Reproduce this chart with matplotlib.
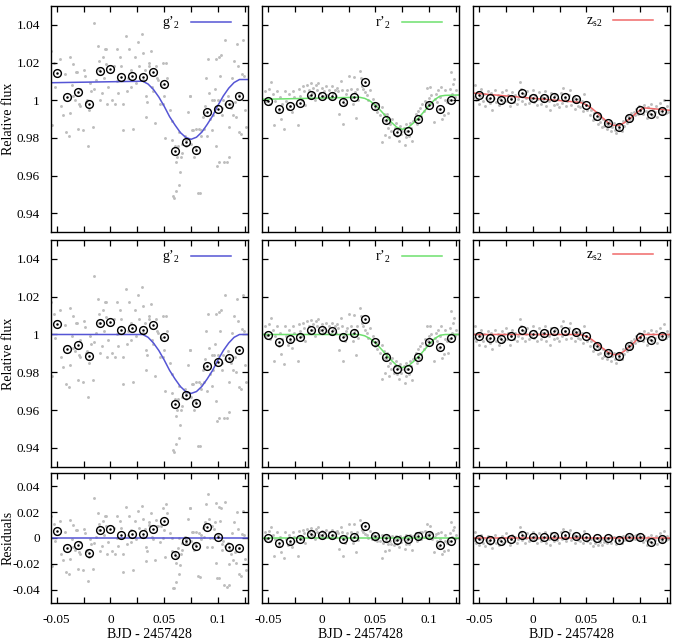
import matplotlib
matplotlib.use('Agg')
import matplotlib.pyplot as plt
from matplotlib.ticker import MultipleLocator, FuncFormatter
from matplotlib.lines import Line2D

plt.rcParams['font.family'] = 'serif'
plt.rcParams['font.serif'] = ['Liberation Serif', 'DejaVu Serif']
plt.rcParams['mathtext.fontset'] = 'custom'
plt.rcParams['mathtext.rm'] = 'Liberation Serif'
plt.rcParams['mathtext.it'] = 'Liberation Serif:italic'
plt.rcParams['axes.unicode_minus'] = False

# ---- binned points (same times for every band) ----
bin_x = [-0.05, -0.04, -0.03, -0.02, -0.01, 0.0, 0.01, 0.02, 0.03,
         0.04, 0.05, 0.06, 0.07, 0.08, 0.09, 0.10, 0.11, 0.12]

g_bin_raw = [1.0147, 1.0016, 1.0042, 0.9981, 1.0156, 1.0167, 1.0121, 1.0130, 1.0126,
             1.0149, 1.0088, 0.9733, 0.9779, 0.9737, 0.9939, 0.9956, 0.9979, 1.0025]
g_bin_det = [1.0054, 0.9923, 0.9947, 0.9888, 1.0060, 1.0068, 1.0023, 1.0032, 1.0026,
             1.0049, 0.9986, 0.9632, 0.9679, 0.9637, 0.9835, 0.9853, 0.9874, 0.9918]
g_bin_res = [0.0055, -0.0078, -0.0052, -0.0118, 0.0060, 0.0070, 0.0020, 0.0030, 0.0034,
             0.0073, 0.0130, -0.0130, -0.0020, -0.0063, 0.0084, 0.0010, -0.0068, -0.0076]

r_bin_raw = [0.9995, 0.9956, 0.9970, 0.9988, 1.0028, 1.0025, 1.0025, 0.9993, 1.0016,
             1.0095, 0.9970, 0.9893, 0.9833, 0.9837, 0.9900, 0.9975, 0.9953, 1.0004]
r_bin_det = [0.9998, 0.9960, 0.9974, 0.9988, 1.0026, 1.0023, 1.0021, 0.9988, 1.0007,
             1.0084, 0.9958, 0.9881, 0.9816, 0.9819, 0.9881, 0.9958, 0.9932, 0.9979]
r_bin_res = [0.0003, -0.0039, -0.0026, -0.0010, 0.0029, 0.0024, 0.0024, -0.0010, 0.0010,
             0.0089, 0.0018, 0.0000, -0.0018, -0.0010, 0.0013, 0.0024, -0.0052, -0.0021]

z_bin_raw = [1.0026, 1.0011, 1.0004, 1.0009, 1.0039, 1.0014, 1.0012, 1.0016, 1.0016,
             1.0007, 0.9977, 0.9919, 0.9877, 0.9858, 0.9907, 0.9949, 0.9926, 0.9942]
z_bin_det = [0.9991, 0.9981, 0.9977, 0.9991, 1.0023, 1.0005, 1.0007, 1.0016, 1.0019,
             1.0014, 0.9991, 0.9939, 0.9900, 0.9886, 0.9939, 0.9986, 0.9970, 0.9991]
z_bin_res = [-0.0008, -0.0016, -0.0021, -0.0008, 0.0026, 0.0008, 0.0010, 0.0018, 0.0021,
             0.0018, 0.0010, 0.0000, -0.0003, -0.0016, 0.0010, 0.0010, -0.0029, -0.0005]

# ---- transit models ----
g_mod_x = [-0.0553, 0.030, 0.035, 0.040, 0.045, 0.050, 0.055, 0.060, 0.065, 0.070, 0.075,
           0.080, 0.085, 0.090, 0.095, 0.100, 0.105, 0.110, 0.115, 0.120, 0.1275]
g_mod_raw = [1.0093, 1.0101, 1.0086, 1.0057, 1.0017, 0.9968, 0.9913, 0.9869, 0.9829, 0.9803, 0.9793,
             0.9804, 0.9831, 0.9872, 0.9917, 0.9973, 1.0023, 1.0064, 1.0094, 1.0110, 1.0110]
g_mod_det = [1.0, 1.0, 0.9985, 0.9955, 0.9915, 0.9865, 0.9810, 0.9765, 0.9725, 0.9698, 0.9688,
             0.9698, 0.9725, 0.9765, 0.9810, 0.9865, 0.9915, 0.9955, 0.9985, 1.0, 1.0]

r_mod_x = [-0.0553, 0.035, 0.040, 0.045, 0.050, 0.055, 0.060, 0.065, 0.070, 0.075,
           0.080, 0.085, 0.090, 0.095, 0.100, 0.105, 0.110, 0.115, 0.1275]
r_mod_raw = [1.0005, 1.0016, 1.0010, 0.9996, 0.9973, 0.9944, 0.9913, 0.9882, 0.9856, 0.9846,
             0.9854, 0.9878, 0.9906, 0.9939, 0.9973, 1.0003, 1.0022, 1.0026, 1.0028]
r_mod_det = [1.0, 1.0, 0.9993, 0.9978, 0.9955, 0.9925, 0.9893, 0.9862, 0.9835, 0.9825,
             0.9832, 0.9855, 0.9883, 0.9915, 0.9948, 0.9978, 0.9996, 1.0, 1.0]

z_mod_x = [-0.0553, 0.044, 0.050, 0.055, 0.060, 0.065, 0.070, 0.075,
           0.080, 0.085, 0.090, 0.095, 0.100, 0.103, 0.1275]
z_mod_raw = [1.0038, 0.9989, 0.9976, 0.9957, 0.9933, 0.9907, 0.9882, 0.9867,
             0.9867, 0.9880, 0.9901, 0.9926, 0.9949, 0.9960, 0.9947]
z_mod_det = [1.0, 1.0, 0.9990, 0.9973, 0.9952, 0.9928, 0.9906, 0.9893,
             0.9896, 0.9911, 0.9935, 0.9962, 0.9988, 1.0, 1.0]

# ---- unbinned photometry, g' ----
g_x = [-0.055, -0.053, -0.054, -0.052, -0.047, -0.046, -0.044, -0.042, -0.041, -0.039, -0.038, -0.038,
       -0.036, -0.035, -0.035, -0.033, -0.032, -0.031, -0.030, -0.029, -0.028, -0.028, -0.026, -0.025,
       -0.024, -0.023, -0.022, -0.021, -0.020, -0.019, -0.018, -0.016, -0.015, -0.015, -0.013, -0.012,
       -0.011, -0.011, -0.010, -0.008, -0.007, -0.006, -0.005, -0.004, -0.004, -0.003, -0.002,
       0.001, 0.003, 0.004, 0.006, 0.006, 0.007, 0.009, 0.010, 0.012, 0.012, 0.014, 0.015, 0.016, 0.017,
       0.019, 0.019, 0.021, 0.023, 0.024, 0.026, 0.027, 0.029, 0.030, 0.030, 0.032, 0.033, 0.033, 0.034,
       0.036, 0.036, 0.038, 0.039, 0.040, 0.041, 0.042, 0.043, 0.044, 0.046, 0.047, 0.049, 0.049, 0.050,
       0.051, 0.052,
       0.053, 0.055, 0.057, 0.057, 0.058, 0.059, 0.060, 0.061, 0.061, 0.062, 0.063, 0.064, 0.064, 0.065,
       0.066, 0.067, 0.067, 0.069, 0.070, 0.070, 0.072, 0.074, 0.074, 0.075, 0.076, 0.077, 0.078, 0.079,
       0.080, 0.081, 0.082, 0.083, 0.084, 0.084,
       0.086, 0.087, 0.087, 0.088, 0.089, 0.090, 0.091, 0.092, 0.093, 0.094, 0.094, 0.095, 0.096, 0.097,
       0.098, 0.098, 0.099, 0.100, 0.101, 0.101, 0.102, 0.103, 0.104, 0.104, 0.105, 0.106, 0.107, 0.107,
       0.108, 0.109, 0.110, 0.110, 0.111, 0.112, 0.113, 0.114, 0.115, 0.116, 0.117, 0.118, 0.119, 0.120,
       0.120, 0.121, 0.122, 0.123, 0.124, 0.125, 0.126]
g_raw = [1.026, 1.020, 0.987, 1.007, 1.022, 0.997, 0.992, 1.014, 0.983, 0.981, 0.993, 1.023,
         1.008, 1.019, 1.002, 1.000, 1.015, 1.015, 0.985, 0.998, 1.006, 0.997, 0.984, 1.016,
         1.013, 0.999, 1.000, 0.976, 0.995, 1.009, 1.005, 0.986, 1.041, 1.006, 1.011, 1.029,
         1.021, 1.016, 1.000, 1.004, 1.023, 1.012, 1.027, 1.019, 1.027, 0.998, 1.007,
         1.000, 1.018, 0.998, 1.027, 1.010, 1.004, 1.023, 1.018, 0.998, 0.984, 1.034, 1.005, 1.012, 1.027,
         1.016, 1.007, 0.985, 1.023, 1.009, 1.031, 1.018, 1.035, 1.011, 1.025, 1.016, 0.991, 1.002, 0.999,
         1.018, 1.020, 1.026, 1.007, 1.005, 0.988, 1.018, 1.012, 1.011, 0.998, 1.008, 1.020, 0.998, 1.002,
         0.980, 1.020,
         1.012, 0.995, 0.979, 0.989, 0.949, 0.948, 0.976, 0.952, 0.967, 0.970, 0.976, 0.983, 0.955, 0.962,
         0.970, 0.972, 0.977, 0.981, 0.979, 0.976, 0.994, 1.002, 1.002, 0.977, 0.984, 0.984, 0.970, 0.975,
         0.985, 0.951, 0.985, 0.951, 0.981, 0.984,
         0.991, 0.985, 0.993, 0.997, 1.012, 0.981, 1.022, 1.004, 0.990, 1.000, 0.984, 0.992, 1.000, 1.006,
         1.022, 0.976, 0.965, 1.000, 0.967, 1.023, 1.013, 1.024, 0.996, 0.992, 1.000, 0.967, 0.998, 1.032,
         0.967, 1.002, 0.970, 0.986, 0.998, 0.996, 1.012, 0.992, 1.021, 0.999, 0.991, 1.030, 1.018, 0.983,
         1.003, 0.982, 1.014, 1.032, 1.013, 0.995, 0.986]
g_det = [1.017, 1.011, 0.978, 0.998, 1.013, 0.988, 0.983, 1.005, 0.974, 0.972, 0.984, 1.014,
         0.999, 1.010, 0.993, 0.991, 1.006, 1.006, 0.976, 0.989, 0.997, 0.988, 0.975, 1.007,
         1.004, 0.990, 0.991, 0.967, 0.985, 0.999, 0.995, 0.976, 1.031, 0.996, 1.001, 1.019,
         1.011, 1.006, 0.990, 0.994, 1.013, 1.002, 1.017, 1.009, 1.017, 0.988, 0.997,
         0.990, 1.008, 0.988, 1.017, 1.000, 0.994, 1.013, 1.008, 0.988, 0.974, 1.024, 0.995, 1.002, 1.017,
         1.006, 0.997, 0.975, 1.013, 0.999, 1.021, 1.008, 1.025, 1.001, 1.015, 1.006, 0.981, 0.992, 0.989,
         1.008, 1.010, 1.016, 0.997, 0.995, 0.978, 1.008, 1.002, 1.001, 0.988, 0.998, 1.010, 0.988, 0.992,
         0.970, 1.010,
         1.002, 0.985, 0.969, 0.979, 0.939, 0.938, 0.966, 0.942, 0.957, 0.960, 0.966, 0.973, 0.945, 0.952,
         0.960, 0.962, 0.967, 0.971, 0.969, 0.966, 0.984, 0.992, 0.992, 0.967, 0.974, 0.974, 0.960, 0.965,
         0.975, 0.941, 0.975, 0.941, 0.971, 0.974,
         0.981, 0.975, 0.983, 0.987, 1.002, 0.970, 1.011, 0.993, 0.979, 0.989, 0.973, 0.981, 0.989, 0.995,
         1.011, 0.965, 0.954, 0.989, 0.956, 1.012, 1.002, 1.013, 0.985, 0.981, 0.989, 0.956, 0.987, 1.021,
         0.956, 0.991, 0.959, 0.975, 0.987, 0.985, 1.001, 0.981, 1.010, 0.988, 0.980, 1.019, 1.007, 0.972,
         0.992, 0.971, 1.003, 1.021, 1.002, 0.984, 0.975]
g_res = [0.017, 0.011, -0.022, -0.002, 0.013, -0.012, -0.017, 0.005, -0.026, -0.028, -0.016, 0.014,
         -0.001, 0.010, -0.007, -0.009, 0.006, 0.006, -0.024, -0.011, -0.003, -0.012, -0.025, 0.007,
         0.004, -0.010, -0.009, -0.033, -0.015, -0.001, -0.005, -0.024, 0.031, -0.004, 0.001, 0.019,
         0.011, 0.006, -0.010, -0.006, 0.013, 0.002, 0.017, 0.009, 0.017, -0.012, -0.003,
         -0.010, 0.008, -0.012, 0.017, 0.000, -0.006, 0.013, 0.008, -0.012, -0.026, 0.024, -0.005, 0.002, 0.017,
         0.006, -0.003, -0.025, 0.013, -0.001, 0.021, 0.008, 0.025, 0.001, 0.015, 0.007, -0.018, -0.007, -0.010,
         0.010, 0.012, 0.019, 0.001, -0.001, -0.017, 0.014, 0.009, 0.009, -0.003, 0.009, 0.023, 0.000, 0.006,
         -0.015, 0.026,
         0.019, 0.004, -0.010, 0.000, -0.039, -0.039, -0.011, -0.034, -0.019, -0.015, -0.008, 0.000, -0.028, -0.021,
         -0.012, -0.009, -0.004, 0.001, -0.001, -0.004, 0.015, 0.023, 0.023, -0.002, 0.005, 0.005, -0.009, -0.005,
         0.005, -0.029, 0.004, -0.030, -0.001, 0.002,
         0.008, 0.001, 0.009, 0.012, 0.026, -0.007, 0.034, 0.015, 0.000, 0.009, -0.007, 0.000, 0.007, 0.012,
         0.027, -0.019, -0.031, 0.002, -0.031, 0.024, 0.013, 0.023, -0.005, -0.009, -0.002, -0.036, -0.006, 0.028,
         -0.038, -0.004, -0.036, -0.020, -0.009, -0.012, 0.004, -0.017, 0.012, -0.011, -0.019, 0.020, 0.007, -0.028,
         -0.008, -0.029, 0.003, 0.021, 0.002, -0.016, -0.025]

# ---- unbinned photometry, r' ----
r_x = [-0.0525, -0.0515, -0.0494, -0.0478, -0.0472, -0.0454, -0.0441, -0.0432, -0.0417, -0.0401, -0.0392,
       -0.0380, -0.0370, -0.0355, -0.0340, -0.0330, -0.0318, -0.0309, -0.0293, -0.0278, -0.0269, -0.0256,
       -0.0238, -0.0225, -0.0216, -0.0201, -0.0185, -0.0176, -0.0164, -0.0154, -0.0139, -0.0123, -0.0114,
       -0.0102, -0.0093, -0.0077, -0.0062, -0.0052, -0.0040, -0.0031, -0.0015,
       0.0000, 0.0009, 0.0022, 0.0040, 0.0052, 0.0071, 0.0083, 0.0093, 0.0108, 0.0123, 0.0133, 0.0145,
       0.0154, 0.0164, 0.0176, 0.0185, 0.0194, 0.0207, 0.0216, 0.0225, 0.0238, 0.0256, 0.0269, 0.0278,
       0.0293, 0.0299, 0.0309, 0.0318, 0.0330, 0.0340, 0.0355, 0.0364, 0.0373, 0.0386, 0.0401, 0.0417,
       0.0432, 0.0448, 0.0463, 0.0478, 0.0494, 0.0503,
       0.0515, 0.0525, 0.0540, 0.0556, 0.0565, 0.0571, 0.0580, 0.0586, 0.0602, 0.0608, 0.0617, 0.0627,
       0.0633, 0.0648, 0.0657, 0.0670, 0.0679, 0.0688, 0.0701, 0.0710, 0.0719, 0.0731, 0.0741, 0.0750,
       0.0762, 0.0772, 0.0781, 0.0787, 0.0796, 0.0812, 0.0818, 0.0833, 0.0843, 0.0849, 0.0864, 0.0873,
       0.0886, 0.0895, 0.0904, 0.0917, 0.0926, 0.0935, 0.0948, 0.0957, 0.0966, 0.0978, 0.0988, 0.0997,
       0.1009, 0.1019, 0.1028, 0.1040, 0.1049, 0.1059, 0.1071, 0.1080, 0.1090, 0.1102, 0.1111, 0.1120,
       0.1133, 0.1142, 0.1151, 0.1164, 0.1173, 0.1182, 0.1194, 0.1204, 0.1213, 0.1225, 0.1235, 0.1244, 0.1250]
r_raw = [1.0051, 0.9998, 1.0060, 0.9981, 1.0095, 1.0033, 0.9867, 0.9998, 1.0051, 0.9946, 1.0016,
         0.9902, 0.9981, 0.9849, 1.0051, 0.9998, 0.9954, 1.0033, 0.9972, 0.9937, 1.0051, 1.0016,
         0.9981, 0.9867, 1.0060, 1.0025, 1.0003, 1.0073, 1.0047, 0.9977, 1.0082, 1.0056, 1.0021,
         1.0091, 1.0038, 1.0065, 1.0003, 1.0082, 1.0056, 1.0094, 1.0038,
         1.0065, 1.0021, 1.0047, 1.0073, 1.0030, 1.0056, 1.0012, 1.0073, 1.0038, 1.0056, 1.0021, 1.0065,
         1.0047, 0.9928, 1.0100, 1.0056, 0.9872, 1.0008, 0.9982, 1.0035, 1.0052, 1.0128, 1.0061, 1.0017,
         0.9982, 1.0122, 1.0043, 0.9906, 1.0061, 0.9999, 1.0157, 1.0117, 1.0078, 1.0061, 1.0043, 1.0026,
         0.9999, 1.0052, 0.9982, 1.0008, 0.9956, 0.9973,
         0.9938, 0.9982, 0.9921, 0.9964, 0.9780, 0.9894, 0.9929, 0.9815, 0.9890, 0.9926, 0.9855, 0.9803,
         0.9873, 0.9838, 0.9899, 0.9820, 0.9855, 0.9882, 0.9811, 0.9847, 0.9785, 0.9864, 0.9820, 0.9838,
         0.9855, 0.9764, 0.9803, 0.9873, 0.9838, 0.9811, 0.9882, 0.9855, 0.9782, 0.9890, 0.9899, 0.9926,
         0.9873, 0.9943, 0.9899, 0.9961, 0.9917, 0.9978, 0.9943, 0.9996, 0.9969, 1.0066, 0.9987, 1.0013,
         1.0070, 1.0026, 0.9982, 0.9886, 1.0008, 1.0035, 0.9991, 1.0052, 0.9956, 1.0017, 1.0070, 0.9903,
         0.9921, 1.0000, 1.0052, 0.9991, 0.9930, 1.0000, 1.0061, 1.0149, 1.0035, 1.0087, 1.0114, 1.0017, 1.0052]
r_det = [1.0044, 0.9991, 1.0053, 0.9974, 1.0088, 1.0026, 0.9860, 0.9991, 1.0044, 0.9939, 1.0009,
         0.9895, 0.9974, 0.9842, 1.0044, 0.9991, 0.9947, 1.0026, 0.9965, 0.9930, 1.0044, 1.0009,
         0.9974, 0.9860, 1.0053, 1.0018, 0.9991, 1.0061, 1.0035, 0.9965, 1.0070, 1.0044, 1.0009,
         1.0079, 1.0026, 1.0053, 0.9991, 1.0070, 1.0044, 1.0082, 1.0026,
         1.0053, 1.0009, 1.0035, 1.0061, 1.0018, 1.0044, 1.0000, 1.0061, 1.0026, 1.0044, 1.0009, 1.0053,
         1.0035, 0.9916, 1.0088, 1.0044, 0.9860, 0.9991, 0.9965, 1.0018, 1.0035, 1.0111, 1.0044, 1.0000,
         0.9965, 1.0105, 1.0026, 0.9889, 1.0044, 0.9982, 1.0140, 1.0100, 1.0061, 1.0044, 1.0026, 1.0009,
         0.9982, 1.0035, 0.9965, 0.9991, 0.9939, 0.9956,
         0.9921, 0.9965, 0.9904, 0.9947, 0.9763, 0.9877, 0.9912, 0.9798, 0.9868, 0.9904, 0.9833, 0.9781,
         0.9851, 0.9816, 0.9877, 0.9798, 0.9833, 0.9860, 0.9789, 0.9825, 0.9763, 0.9842, 0.9798, 0.9816,
         0.9833, 0.9742, 0.9781, 0.9851, 0.9816, 0.9789, 0.9860, 0.9833, 0.9760, 0.9868, 0.9877, 0.9904,
         0.9851, 0.9921, 0.9877, 0.9939, 0.9895, 0.9956, 0.9921, 0.9974, 0.9947, 1.0044, 0.9965, 0.9991,
         1.0044, 1.0000, 0.9956, 0.9860, 0.9982, 1.0009, 0.9965, 1.0026, 0.9930, 0.9991, 1.0044, 0.9877,
         0.9895, 0.9974, 1.0026, 0.9965, 0.9904, 0.9974, 1.0035, 1.0123, 1.0009, 1.0061, 1.0088, 0.9991, 1.0026]
r_res = [0.0044, -0.0009, 0.0053, -0.0026, 0.0088, 0.0026, -0.0140, -0.0009, 0.0044, -0.0061, 0.0009,
         -0.0105, -0.0026, -0.0158, 0.0044, -0.0009, -0.0053, 0.0026, -0.0035, -0.0070, 0.0044, 0.0009,
         -0.0026, -0.0140, 0.0053, 0.0018, -0.0009, 0.0061, 0.0035, -0.0035, 0.0070, 0.0044, 0.0009,
         0.0079, 0.0026, 0.0053, -0.0009, 0.0070, 0.0044, 0.0082, 0.0026,
         0.0053, 0.0009, 0.0035, 0.0061, 0.0018, 0.0044, 0.0000, 0.0061, 0.0026, 0.0044, 0.0009, 0.0053,
         0.0035, -0.0084, 0.0088, 0.0044, -0.0140, -0.0009, -0.0035, 0.0018, 0.0035, 0.0111, 0.0044, 0.0000,
         -0.0035, 0.0105, 0.0026, -0.0111, 0.0044, -0.0018, 0.0140, 0.0101, 0.0063, 0.0048, 0.0033, 0.0021,
         -0.0001, 0.0056, -0.0006, 0.0026, -0.0019, 0.0002,
         -0.0025, 0.0025, -0.0027, 0.0026, -0.0152, -0.0035, 0.0006, -0.0104, -0.0024, 0.0016, -0.0049, -0.0095,
         -0.0021, -0.0047, 0.0019, -0.0053, -0.0013, 0.0019, -0.0046, -0.0008, -0.0068, 0.0013, -0.0029, -0.0009,
         0.0006, -0.0086, -0.0048, 0.0021, -0.0015, -0.0048, 0.0020, -0.0014, -0.0092, 0.0014, 0.0014, 0.0036,
         -0.0024, 0.0041, -0.0009, 0.0045, -0.0005, 0.0050, 0.0007, 0.0054, 0.0021, 0.0110, 0.0025, 0.0045,
         0.0091, 0.0041, -0.0009, -0.0112, 0.0005, 0.0028, -0.0020, 0.0038, -0.0062, -0.0005, 0.0047, -0.0121,
         -0.0104, -0.0026, 0.0026, -0.0035, -0.0096, -0.0026, 0.0035, 0.0123, 0.0009, 0.0061, 0.0088, -0.0009, 0.0026]

# ---- unbinned photometry, z_s ----
z_x = [-0.0543, -0.0534, -0.0525, -0.0512, -0.0500, -0.0488, -0.0478, -0.0466, -0.0457, -0.0444, -0.0432,
       -0.0420, -0.0410, -0.0395, -0.0386, -0.0377, -0.0364, -0.0352, -0.0340, -0.0327, -0.0315, -0.0302,
       -0.0290, -0.0278, -0.0265, -0.0253, -0.0241, -0.0228, -0.0216, -0.0204, -0.0191, -0.0179, -0.0164,
       -0.0148, -0.0136, -0.0123, -0.0111, -0.0099, -0.0086, -0.0074, -0.0062, -0.0049, -0.0037, -0.0025, -0.0012,
       0.0000, 0.0012, 0.0025, 0.0037, 0.0049, 0.0062, 0.0074, 0.0086, 0.0099, 0.0111, 0.0123, 0.0136,
       0.0148, 0.0160, 0.0173, 0.0185, 0.0198, 0.0210, 0.0222, 0.0235, 0.0247, 0.0259, 0.0272, 0.0284,
       0.0296, 0.0309, 0.0321, 0.0333, 0.0346, 0.0358, 0.0370, 0.0383, 0.0395, 0.0407, 0.0420, 0.0432,
       0.0444, 0.0457, 0.0469, 0.0481, 0.0494,
       0.0506, 0.0519, 0.0531, 0.0543, 0.0556, 0.0568, 0.0580, 0.0593, 0.0605, 0.0617, 0.0630, 0.0642,
       0.0654, 0.0667, 0.0679, 0.0691, 0.0704, 0.0716, 0.0728, 0.0741, 0.0753, 0.0765, 0.0778, 0.0790,
       0.0802, 0.0815, 0.0827, 0.0840, 0.0852, 0.0864, 0.0877, 0.0889, 0.0901, 0.0914, 0.0926, 0.0938,
       0.0951, 0.0963, 0.0975, 0.0988, 0.1000,
       0.1012, 0.1025, 0.1037, 0.1049, 0.1062, 0.1074, 0.1086, 0.1099, 0.1111, 0.1123, 0.1136, 0.1148,
       0.1160, 0.1173, 0.1185, 0.1198, 0.1210, 0.1222, 0.1235, 0.1247, 0.1259]
z_raw = [1.0019, 1.0081, 1.0001, 1.0045, 0.9982, 1.0025, 1.0060, 0.9998, 1.0033, 0.9971, 1.0014,
         1.0049, 1.0005, 0.9986, 1.0038, 0.9950, 1.0010, 1.0054, 0.9992, 1.0026, 0.9973, 1.0007,
         1.0042, 0.9989, 1.0023, 1.0057, 0.9996, 1.0030, 0.9968, 1.0011, 1.0045, 0.9993, 1.0027,
         0.9982, 1.0008, 1.0098, 1.0059, 0.9997, 1.0032, 0.9979, 1.0013, 1.0047, 0.9986, 1.0020, 1.0002,
         1.0054, 0.9991, 1.0027, 0.9973, 1.0008, 1.0042, 0.9980, 1.0015, 0.9996, 1.0049, 0.9969, 1.0021,
         0.9994, 0.9949, 1.0036, 1.0001, 0.9974, 1.0026, 0.9981, 1.0007, 0.9963, 1.0041, 0.9988, 1.0066,
         1.0013, 0.9969, 0.9994, 1.0029, 1.0054, 0.9974, 1.0001, 1.0017, 0.9956, 0.9990, 0.9971, 1.0007,
         0.9962, 0.9997, 0.9943, 1.0031, 0.9977,
         0.9951, 0.9967, 0.9924, 0.9949, 0.9895, 0.9930, 0.9903, 0.9938, 0.9876, 0.9910, 0.9884, 0.9856,
         0.9900, 0.9864, 0.9881, 0.9845, 0.9871, 0.9888, 0.9835, 0.9860, 0.9878, 0.9841, 0.9824, 0.9867,
         0.9848, 0.9875, 0.9838, 0.9891, 0.9864, 0.9898, 0.9880, 0.9914, 0.9888, 0.9931, 0.9904, 0.9939,
         0.9920, 0.9955, 0.9928, 0.9971, 0.9944,
         0.9960, 0.9925, 0.9977, 0.9941, 0.9905, 0.9966, 0.9931, 0.9982, 0.9921, 0.9955, 0.9936, 0.9972,
         0.9909, 0.9944, 0.9987, 0.9925, 0.9960, 1.0003, 0.9932, 0.9967, 0.9939]
z_det = [0.9982, 1.0044, 0.9965, 1.0009, 0.9947, 0.9991, 1.0026, 0.9965, 1.0000, 0.9939, 0.9982,
         1.0018, 0.9974, 0.9956, 1.0009, 0.9921, 0.9982, 1.0026, 0.9965, 1.0000, 0.9947, 0.9982,
         1.0018, 0.9965, 1.0000, 1.0035, 0.9974, 1.0009, 0.9947, 0.9991, 1.0026, 0.9974, 1.0009,
         0.9965, 0.9991, 1.0082, 1.0044, 0.9982, 1.0018, 0.9965, 1.0000, 1.0035, 0.9974, 1.0009, 0.9991,
         1.0044, 0.9982, 1.0018, 0.9965, 1.0000, 1.0035, 0.9974, 1.0009, 0.9991, 1.0044, 0.9965, 1.0018,
         0.9991, 0.9947, 1.0035, 1.0000, 0.9974, 1.0026, 0.9982, 1.0009, 0.9965, 1.0044, 0.9991, 1.0070,
         1.0018, 0.9974, 1.0000, 1.0035, 1.0061, 0.9982, 1.0009, 1.0026, 0.9965, 1.0000, 0.9982, 1.0018,
         0.9974, 1.0009, 0.9956, 1.0044, 0.9991,
         0.9965, 0.9982, 0.9939, 0.9965, 0.9912, 0.9947, 0.9921, 0.9956, 0.9895, 0.9930, 0.9904, 0.9877,
         0.9921, 0.9886, 0.9904, 0.9868, 0.9895, 0.9912, 0.9860, 0.9886, 0.9904, 0.9868, 0.9851, 0.9895,
         0.9877, 0.9904, 0.9868, 0.9921, 0.9895, 0.9930, 0.9912, 0.9947, 0.9921, 0.9965, 0.9939, 0.9974,
         0.9956, 0.9991, 0.9965, 1.0009, 0.9982,
         1.0000, 0.9965, 1.0018, 0.9982, 0.9947, 1.0009, 0.9974, 1.0026, 0.9965, 1.0000, 0.9982, 1.0018,
         0.9956, 0.9991, 1.0035, 0.9974, 1.0009, 1.0053, 0.9982, 1.0018, 0.9991]
z_res = [-0.0018, 0.0044, -0.0035, 0.0009, -0.0053, -0.0009, 0.0026, -0.0035, 0.0000, -0.0061, -0.0018,
         0.0018, -0.0026, -0.0044, 0.0009, -0.0079, -0.0018, 0.0026, -0.0035, 0.0000, -0.0053, -0.0018,
         0.0018, -0.0035, 0.0000, 0.0035, -0.0026, 0.0009, -0.0053, -0.0009, 0.0026, -0.0026, 0.0009,
         -0.0035, -0.0009, 0.0082, 0.0044, -0.0018, 0.0018, -0.0035, 0.0000, 0.0035, -0.0026, 0.0009, -0.0009,
         0.0044, -0.0018, 0.0018, -0.0035, 0.0000, 0.0035, -0.0026, 0.0009, -0.0009, 0.0044, -0.0035, 0.0018,
         -0.0009, -0.0053, 0.0035, 0.0000, -0.0026, 0.0026, -0.0018, 0.0009, -0.0035, 0.0044, -0.0009, 0.0070,
         0.0018, -0.0026, 0.0000, 0.0035, 0.0061, -0.0018, 0.0009, 0.0026, -0.0035, 0.0000, -0.0018, 0.0018,
         -0.0026, 0.0012, -0.0039, 0.0051, 0.0000,
         -0.0023, -0.0001, -0.0040, -0.0010, -0.0058, -0.0018, -0.0039, 0.0001, -0.0055, -0.0014, -0.0034, -0.0055,
         -0.0005, -0.0034, -0.0011, -0.0042, -0.0010, 0.0010, -0.0039, -0.0009, 0.0011, -0.0026, -0.0044, 0.0000,
         -0.0020, 0.0004, -0.0036, 0.0013, -0.0017, 0.0012, -0.0012, 0.0017, -0.0015, 0.0022, -0.0010, 0.0018,
         -0.0007, 0.0022, -0.0010, 0.0027, -0.0006,
         0.0005, -0.0034, 0.0018, -0.0018, -0.0053, 0.0009, -0.0026, 0.0026, -0.0035, 0.0000, -0.0018, 0.0018,
         -0.0044, -0.0009, 0.0035, -0.0026, 0.0009, 0.0053, -0.0018, 0.0018, -0.0009]

band_labels = ["g\u2019$_{2}$", "r\u2019$_{2}$", "z$_{\\rm s2}$"]
band_colors = ['#5555d5', '#6ee06e', '#f06a6a']

XLIM = (-0.0553, 0.1275)


def fmt(v, pos):
    return '%g' % round(v, 4)


def style_axis(ax, ylim, ystep, show_x, show_y):
    ax.set_xlim(*XLIM)
    ax.set_ylim(*ylim)
    ax.xaxis.set_major_locator(MultipleLocator(0.05))
    ax.xaxis.set_minor_locator(MultipleLocator(0.025))
    ax.yaxis.set_major_locator(MultipleLocator(ystep))
    ax.xaxis.set_major_formatter(FuncFormatter(fmt))
    ax.yaxis.set_major_formatter(FuncFormatter(fmt))
    ax.tick_params(which='both', direction='in', top=True, right=True,
                   length=4, width=0.9, labelsize=9.5, pad=8)
    ax.tick_params(axis='x', labelbottom=show_x)
    ax.tick_params(axis='y', labelleft=show_y)
    for s in ax.spines.values():
        s.set_linewidth(1.0)


def panel(ax, x, y, mx, my, by, color, ylim, ystep, show_x, show_y, label=None):
    ax.plot(x, y, 'o', ms=2.1, color='#bdbdbd', mec='none', zorder=1)
    if mx is None:
        ax.axhline(0, color=color, lw=1.1, zorder=2)
    else:
        ax.plot(mx, my, '-', color=color, lw=1.1, zorder=2)
    ax.plot(bin_x, by, 'o', ms=5.6, mfc='none', mec='black', mew=1.0, zorder=3)
    ax.plot(bin_x, by, '.', ms=1.6, color='black', zorder=3)
    style_axis(ax, ylim, ystep, show_x, show_y)
    if label is not None:
        h = Line2D([], [], color=color, lw=1.1)
        ax.legend([h], [label], loc='upper right', bbox_to_anchor=(0.93, 0.975),
                  frameon=False, markerfirst=False, handlelength=2.9,
                  handletextpad=0.8, borderaxespad=0.0, borderpad=0.2, fontsize=10)


fig = plt.figure(figsize=(6.75, 6.42), dpi=100)

lefts = [0.0756, 0.3886, 0.7012]
width = 0.2911
rows = [(0.6382, 0.3525), (0.2730, 0.3531), (0.0612, 0.2016)]

bands = [
    (g_x, g_raw, g_det, g_res, g_mod_x, g_mod_raw, g_mod_det, g_bin_raw, g_bin_det, g_bin_res),
    (r_x, r_raw, r_det, r_res, r_mod_x, r_mod_raw, r_mod_det, r_bin_raw, r_bin_det, r_bin_res),
    (z_x, z_raw, z_det, z_res, z_mod_x, z_mod_raw, z_mod_det, z_bin_raw, z_bin_det, z_bin_res),
]

for j, (x, yraw, ydet, yres, mx, mraw, mdet, braw, bdet, bres) in enumerate(bands):
    color = band_colors[j]
    show_y = (j == 0)

    ax1 = fig.add_axes([lefts[j], rows[0][0], width, rows[0][1]])
    panel(ax1, x, yraw, mx, mraw, braw, color, (0.93, 1.05), 0.02, False, show_y, band_labels[j])

    ax2 = fig.add_axes([lefts[j], rows[1][0], width, rows[1][1]])
    panel(ax2, x, ydet, mx, mdet, bdet, color, (0.93, 1.05), 0.02, False, show_y, band_labels[j])

    ax3 = fig.add_axes([lefts[j], rows[2][0], width, rows[2][1]])
    panel(ax3, x, yres, None, None, bres, color, (-0.05, 0.05), 0.02, True, show_y)
    ax3.set_xlabel('BJD - 2457428', fontsize=10)
    ax3.xaxis.set_label_coords(0.5, -0.195)

    if j == 0:
        ax1.set_ylabel('Relative flux', fontsize=10)
        ax2.set_ylabel('Relative flux', fontsize=10)
        ax3.set_ylabel('Residuals', fontsize=10)
        for a in (ax1, ax2, ax3):
            a.yaxis.set_label_coords(-0.185, 0.5)

fig.savefig('out.png', dpi=100)
